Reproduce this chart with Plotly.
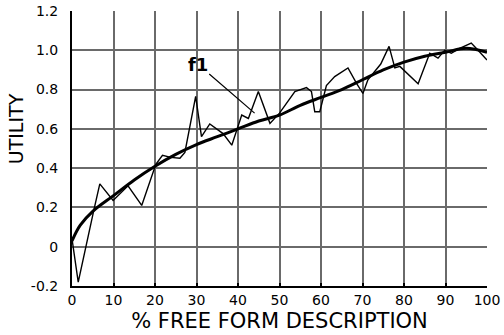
import plotly.graph_objects as go

# Smooth fitted curve
fit_x = [0, 2, 5, 10, 15, 20, 25, 30, 35, 40, 45, 50, 55, 60, 65, 70, 75, 80, 85, 90, 95, 100]
fit_y = [0.03, 0.11, 0.18, 0.26, 0.34, 0.41, 0.47, 0.52, 0.56, 0.60, 0.64, 0.67, 0.72, 0.76, 0.80,
         0.85, 0.90, 0.94, 0.97, 0.99, 1.01, 0.99]

# Noisy observed series
obs_x = [0, 1.5, 5.3, 6.7, 9.9, 13.5, 16.8, 20.2, 21.8, 23.8, 26, 27.2, 29.8, 31.2, 33.2, 36.4, 38.5,
         40.9, 42.5, 44.9, 47.7, 50, 53.7, 56.5, 57.7, 58.5, 59.7, 61.3, 63.3, 66.5, 68.6, 70.1, 71.3,
         74.4, 76.4, 77.8, 79, 83.4, 86.2, 88.2, 89.8, 91.4, 93.4, 96.2, 97.4, 100]
obs_y = [0.04, -0.18, 0.19, 0.32, 0.235, 0.31, 0.21, 0.42, 0.465, 0.455, 0.45, 0.48, 0.765, 0.56, 0.625,
         0.576, 0.517, 0.67, 0.653, 0.79, 0.628, 0.68, 0.79, 0.81, 0.79, 0.687, 0.687, 0.82, 0.866, 0.91,
         0.83, 0.78, 0.85, 0.93, 1.02, 0.91, 0.918, 0.83, 0.985, 0.96, 1.0, 0.985, 1.01, 1.037, 1.01, 0.95]

x_ticks = [0, 10, 20, 30, 40, 50, 60, 70, 80, 90, 100]
y_ticks = [-0.2, 0, 0.2, 0.4, 0.6, 0.8, 1.0, 1.2]
y_tick_text = ["-0.2", "0", "0.2", "0.4", "0.6", "0.8", "1.0", "1.2"]

label_text = "f1"
label_pos = (30.3, 0.93)
label_target = (44.0, 0.68)

fig = go.Figure()
fig.add_trace(go.Scatter(x=obs_x, y=obs_y, mode="lines",
                         line=dict(color="black", width=1.4), showlegend=False))
fig.add_trace(go.Scatter(x=fit_x, y=fit_y, mode="lines", line_shape="spline",
                         line=dict(color="black", width=3), showlegend=False))

fig.add_annotation(x=label_target[0], y=label_target[1], ax=label_pos[0], ay=label_pos[1],
                   axref="x", ayref="y", xref="x", yref="y", text="<b>" + label_text + "</b>",
                   showarrow=True, arrowhead=0, arrowwidth=1.2, arrowcolor="black",
                   font=dict(family="DejaVu Sans", size=18, color="black"))

fig.add_annotation(x=0, y=0.57, xref="paper", yref="paper", xanchor="center", yanchor="middle",
                   xshift=-56, text="UTILITY", textangle=-90, showarrow=False,
                   font=dict(family="DejaVu Sans", size=19, color="black"))

fig.update_xaxes(range=[0, 100], tickvals=x_ticks, showgrid=True, gridcolor="#6a6a6a", gridwidth=2,
                 zeroline=False, showline=True, linecolor="black", linewidth=2,
                 ticks="inside", ticklen=3, tickwidth=2, tickcolor="black", automargin=False,
                 tickfont=dict(family="DejaVu Sans", size=14, color="black"),
                 title=dict(text="% FREE FORM DESCRIPTION", standoff=7,
                            font=dict(family="DejaVu Sans", size=21, color="black")))
fig.update_yaxes(range=[-0.2, 1.2], tickvals=y_ticks, ticktext=y_tick_text, showgrid=True,
                 gridcolor="#6a6a6a", gridwidth=2, zeroline=False, showline=True,
                 linecolor="black", linewidth=2, ticks="", ticklabelstandoff=9, automargin=False,
                 tickfont=dict(family="DejaVu Sans", size=14, color="black"))

fig.update_layout(width=504, height=335, margin=dict(l=72, r=17, t=11, b=49),
                  plot_bgcolor="white", paper_bgcolor="white")

fig.write_html("out.html")
